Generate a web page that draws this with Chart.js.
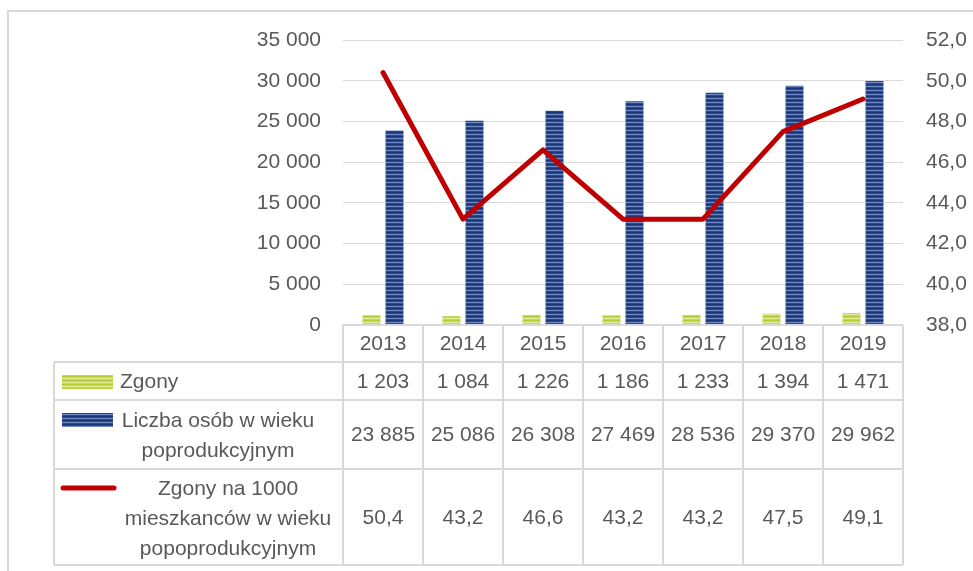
<!DOCTYPE html>
<html>
<head>
<meta charset="utf-8">
<script src="https://cdn.jsdelivr.net/npm/chart.js@4/dist/chart.umd.min.js"></script>
<style>
  html, body { margin: 0; padding: 0; background: #fff; }
  canvas { display: block; }
</style>
</head>
<body>
<canvas id="chart" width="973" height="571"></canvas>
<script>
const years = ["2013", "2014", "2015", "2016", "2017", "2018", "2019"];
const zgony = [1203, 1084, 1226, 1186, 1233, 1394, 1471];
const liczba = [23885, 25086, 26308, 27469, 28536, 29370, 29962];
const naTysiac = [50.4, 43.2, 46.6, 43.2, 43.2, 47.5, 49.1];

const labelZgony = "Zgony";
const labelLiczba = ["Liczba osób w wieku", "poprodukcyjnym"];
const labelNaTysiac = ["Zgony na 1000", "mieszkanców w wieku", "popoprodukcyjnym"];

const FONT = "'Liberation Sans', Arial, sans-serif";
const TXT = "#595959";
const LINES = "#d9d9d9";

function thousands(v) {
  return String(v).replace(/\B(?=(\d{3})+(?!\d))/g, " ");
}
function comma(v) {
  return v.toFixed(1).replace(".", ",");
}

// striped fill like the excel bars
function stripes(rows) {
  const c = document.createElement("canvas");
  c.width = 4;
  c.height = rows.length;
  const g = c.getContext("2d");
  rows.forEach((col, i) => {
    g.fillStyle = col;
    g.fillRect(0, i, 4, 1);
  });
  return g.createPattern(c, "repeat");
}
const greenFill = stripes(["#b8cc35", "#c6d84e", "#e2ec9a", "#c6d84e"]);
const blueFill = stripes(["#1b3672", "#284890", "#6d8ac6", "#284890"]);

const frame = {
  id: "frame",
  beforeDraw(chart) {
    const ctx = chart.ctx;
    ctx.save();
    ctx.strokeStyle = LINES;
    ctx.lineWidth = 2;
    ctx.beginPath();
    ctx.moveTo(973, 11);
    ctx.lineTo(8, 11);
    ctx.lineTo(8, 571);
    ctx.stroke();
    ctx.restore();
  }
};

const dataTable = {
  id: "dataTable",
  afterDraw(chart) {
    const ctx = chart.ctx;
    const area = chart.chartArea;
    const n = years.length;
    const w = (area.right - area.left) / n;
    const xs = chart.scales.x;
    const rows = [area.bottom, 362, 400, 469, 565];
    const legendLeft = 54;

    ctx.save();
    ctx.strokeStyle = LINES;
    ctx.lineWidth = 2;
    ctx.beginPath();
    ctx.moveTo(area.left, rows[0]);
    ctx.lineTo(area.right, rows[0]);
    for (let r = 1; r < rows.length; r++) {
      ctx.moveTo(legendLeft, rows[r]);
      ctx.lineTo(area.right, rows[r]);
    }
    for (let i = 0; i <= n; i++) {
      const x = area.left + i * w;
      ctx.moveTo(x, rows[0]);
      ctx.lineTo(x, rows[4]);
    }
    ctx.moveTo(legendLeft, rows[1]);
    ctx.lineTo(legendLeft, rows[4]);
    ctx.stroke();

    ctx.fillStyle = TXT;
    ctx.font = "21px " + FONT;
    ctx.textAlign = "center";
    ctx.textBaseline = "middle";
    const mid = (a, b) => (rows[a] + rows[b]) / 2 + 1;
    years.forEach((y, i) => {
      const cx = xs.getPixelForValue(i);
      ctx.fillText(y, cx, mid(0, 1));
      ctx.fillText(thousands(zgony[i]), cx, mid(1, 2));
      ctx.fillText(thousands(liczba[i]), cx, mid(2, 3));
      ctx.fillText(comma(naTysiac[i]), cx, mid(3, 4));
    });

    // legend column
    ctx.fillStyle = greenFill;
    ctx.fillRect(62, 375, 51, 14);
    ctx.fillStyle = blueFill;
    ctx.fillRect(62, 413, 51, 14);
    ctx.strokeStyle = "#c00000";
    ctx.lineWidth = 5;
    ctx.lineCap = "round";
    ctx.beginPath();
    ctx.moveTo(63, 488);
    ctx.lineTo(114, 488);
    ctx.stroke();

    ctx.fillStyle = TXT;
    ctx.textAlign = "left";
    ctx.fillText(labelZgony, 120, 382);
    ctx.textAlign = "center";
    labelLiczba.forEach((t, i) => ctx.fillText(t, 218, 421 + i * 30));
    labelNaTysiac.forEach((t, i) => ctx.fillText(t, 228, 489 + i * 30));
    ctx.restore();
  }
};

new Chart(document.getElementById("chart"), {
  type: "bar",
  data: {
    labels: years,
    datasets: [
      {
        type: "line",
        label: labelNaTysiac.join(" "),
        data: naTysiac,
        yAxisID: "y1",
        borderColor: "#c00000",
        borderWidth: 5,
        borderCapStyle: "round",
        borderJoinStyle: "round",
        pointRadius: 0,
        tension: 0,
        order: 0
      },
      {
        label: labelZgony,
        data: zgony,
        yAxisID: "y",
        backgroundColor: greenFill,
        categoryPercentage: 0.575,
        barPercentage: 0.78,
        order: 1
      },
      {
        label: labelLiczba.join(" "),
        data: liczba,
        yAxisID: "y",
        backgroundColor: blueFill,
        categoryPercentage: 0.575,
        barPercentage: 0.78,
        order: 1
      }
    ]
  },
  options: {
    responsive: false,
    animation: false,
    layout: { padding: { top: 40, bottom: 246, left: 0, right: 0 } },
    plugins: { legend: { display: false }, tooltip: { enabled: false } },
    scales: {
      x: {
        grid: { display: false },
        border: { display: false },
        ticks: { display: false },
        afterFit: s => { s.height = 0; }
      },
      y: {
        position: "left",
        min: 0,
        max: 35000,
        grid: { color: LINES, lineWidth: 1, drawTicks: false },
        border: { display: false },
        ticks: {
          stepSize: 5000,
          padding: 22,
          color: TXT,
          font: { family: FONT, size: 21 },
          callback: v => thousands(v)
        },
        afterFit: s => { s.width = 343; }
      },
      y1: {
        position: "right",
        min: 38,
        max: 52,
        grid: { drawOnChartArea: false, drawTicks: false },
        border: { display: false },
        ticks: {
          stepSize: 2,
          padding: 23,
          color: TXT,
          font: { family: FONT, size: 21 },
          callback: v => comma(v)
        },
        afterFit: s => { s.width = 70; }
      }
    }
  },
  plugins: [frame, dataTable]
});
</script>
</body>
</html>
